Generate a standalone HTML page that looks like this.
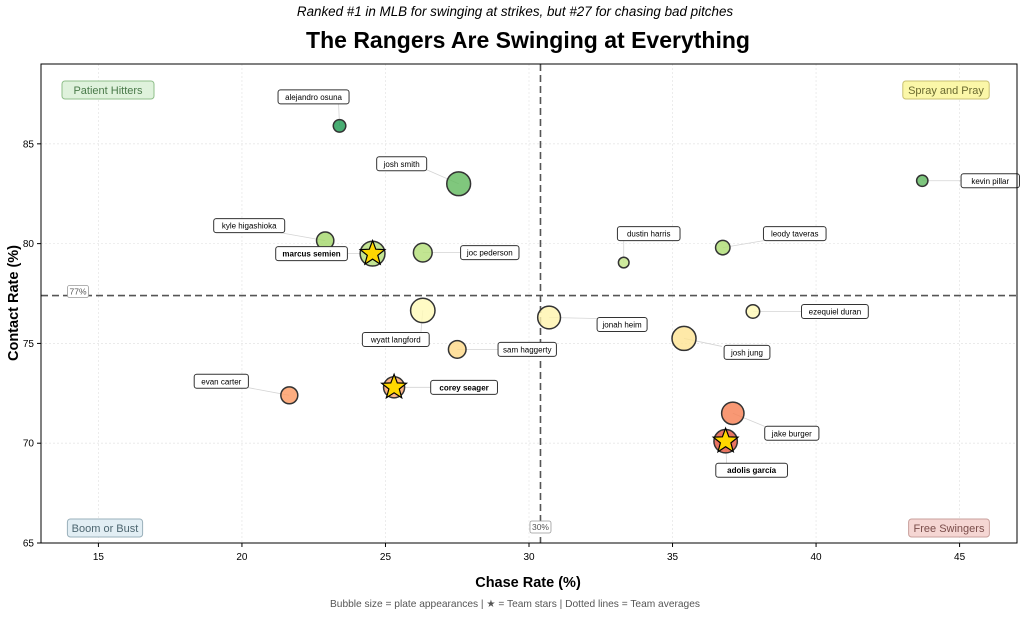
<!DOCTYPE html>
<html><head><meta charset="utf-8"><style>
body{margin:0;background:#fff;font-family:"Liberation Sans","DejaVu Sans",sans-serif;}
svg text{font-family:"Liberation Sans","DejaVu Sans",sans-serif;}
</style></head><body>
<svg id="c" width="1023" height="614" xmlns="http://www.w3.org/2000/svg"></svg>
<script>
const names=["alejandro osuna","josh smith","kevin pillar","kyle higashioka","marcus semien","joc pederson","dustin harris","leody taveras","wyatt langford","jonah heim","ezequiel duran","josh jung","sam haggerty","evan carter","corey seager","jake burger","adolis garcía"];
const chase=[23.4,27.55,43.7,22.9,24.55,26.3,33.3,36.75,26.3,30.7,37.8,35.4,27.5,21.65,25.3,37.1,36.85];
const contact=[85.9,83.0,83.15,80.15,79.5,79.55,79.05,79.8,76.65,76.3,76.6,75.25,74.7,72.4,72.8,71.5,70.1];
const pa=[60,450,40,180,500,230,30,100,480,400,80,460,190,170,320,380,430];
const stars=[0,0,0,0,1,0,0,0,0,0,0,0,0,0,1,0,1];
const xTicks=[15,20,25,30,35,40,45];
const yTicks=[65,70,75,80,85];
const avgChase=30.4, avgContact=77.4;
// label layout offsets (pixels)
const lo=[[-26,-29],[-57,-20],[68,0],[-76,-15],[-61,0],[67,0],[25,-29],[72,-14],[-27,29],[73,7],[82,0],[63,14],[70,0],[-68,-14],[70,0],[59,20],[26,29]];
const X0=41,X1=1017,Y0=64,Y1=543,xmin=13,xmax=47,ymin=65,ymax=89;
const sx=v=>X0+(v-xmin)/(xmax-xmin)*(X1-X0);
const sy=v=>Y1-(v-ymin)/(ymax-ymin)*(Y1-Y0);
const svg=document.getElementById('c');
const NS="http://www.w3.org/2000/svg";
function el(t,a,p){const e=document.createElementNS(NS,t);for(const k in a)e.setAttribute(k,a[k]);(p||svg).appendChild(e);return e;}
function txt(s,a,p){const e=el('text',a,p);e.textContent=s;return e;}
const stops=[[69,[215,48,39]],[72,[252,141,89]],[75,[254,224,139]],[77,[255,255,191]],[80,[166,217,106]],[86,[26,152,80]]];
function cmap(v){if(v<=stops[0][0])return stops[0][1];for(let i=1;i<stops.length;i++){if(v<=stops[i][0]){const a=stops[i-1],b=stops[i],t=(v-a[0])/(b[0]-a[0]);return a[1].map((c,j)=>Math.round(c+(b[1][j]-c)*t));}}return stops[stops.length-1][1];}
// grid
xTicks.forEach(t=>{const g=el('line',{x1:sx(t),x2:sx(t),y1:Y0,y2:Y1,stroke:'#e8e8e8','stroke-dasharray':'2,2','stroke-width':0.8});
el('line',{x1:sx(t),x2:sx(t),y1:Y1,y2:Y1+4,stroke:'#000'});
const tl=txt(t,{x:sx(t),y:Y1+17,'font-size':10,'text-anchor':'middle'});});
yTicks.forEach(t=>{const g=el('line',{x1:X0,x2:X1,y1:sy(t),y2:sy(t),stroke:'#e8e8e8','stroke-dasharray':'2,2','stroke-width':0.8});
el('line',{x1:X0-4,x2:X0,y1:sy(t),y2:sy(t),stroke:'#000'});
const tl=txt(t,{x:X0-7,y:sy(t)+3.5,'font-size':10,'text-anchor':'end'});});
// avg lines
const va=el('line',{x1:sx(avgChase),x2:sx(avgChase),y1:Y0,y2:Y1,stroke:'#555','stroke-width':1.6,'stroke-dasharray':'7,4'});

const ha=el('line',{x1:X0,x2:X1,y1:sy(avgContact),y2:sy(avgContact),stroke:'#555','stroke-width':1.6,'stroke-dasharray':'7,4'});

function smallBox(s,cx,cy,name){const g=el('g',{});
const w=s.length*5+6;el('rect',{x:cx-w/2,y:cy-6,width:w,height:12,rx:2,fill:'#fff',stroke:'#999','stroke-width':0.8},g);txt(s,{x:cx,y:cy+3,'font-size':8.5,'text-anchor':'middle',fill:'#555'},g);}
smallBox(Math.round(avgContact)+'%',78,sy(avgContact)-4,'avg-contact-label');
smallBox(Math.round(avgChase)+'%',sx(avgChase),527,'avg-chase-label');
// quadrant labels
[["Patient Hitters",108,90,'#dff2dc','#8fbf8a','#4a7a4a'],["Spray and Pray",946,90,'#fbf7a8','#c8c070','#6a6a30'],["Boom or Bust",105,528,'#e2eef4','#9ab0bb','#4d6670'],["Free Swingers",949,528,'#f5d6d3','#c9a09c','#7a4d4a']].forEach(q=>{
const g=el('g',{});
const w=q[0].length*5.6+8;el('rect',{x:q[1]-w/2,y:q[2]-9,width:w,height:18,rx:3,fill:q[3],stroke:q[4]},g);
txt(q[0],{x:q[1],y:q[2]+4,'font-size':11,'text-anchor':'middle',fill:q[5]},g);});
// points
names.forEach((n,i)=>{
const x=sx(chase[i]),y=sy(contact[i]),r=3+Math.sqrt(pa[i])*0.42;
const lx=x+lo[i][0],ly=y+lo[i][1];
const ln=el('line',{x1:x,y1:y,x2:lx-Math.sign(lo[i][0])*25,y2:ly-Math.sign(lo[i][1])*6,stroke:'#d4d4d4','stroke-width':0.8});

const c=cmap(contact[i]);
const b=el('circle',{cx:x,cy:y,r:r,fill:`rgb(${c})`,'fill-opacity':0.8,stroke:'#333','stroke-width':1.5});

if(stars[i]){let p=[];for(let k=0;k<10;k++){const a=-Math.PI/2+k*Math.PI/5,rr=k%2?5.5:13;p.push((x+rr*Math.cos(a)).toFixed(1)+','+(y+rr*Math.sin(a)).toFixed(1));}
const s=el('polygon',{points:p.join(' '),fill:'#FFD700',stroke:'#000','stroke-width':1.2});}
const g=el('g',{});
const bold=stars[i];const w=n.length*(bold?4.9:4.2)+8;
el('rect',{x:lx-w/2,y:ly-7,width:w,height:14,rx:2.5,fill:'#fff',stroke:'#333','stroke-width':1},g);
txt(n,{x:lx,y:ly+3,'font-size':8,'text-anchor':'middle','font-weight':bold?'bold':'normal'},g);
});
const fr=el('rect',{x:X0,y:Y0,width:X1-X0,height:Y1-Y0,fill:'none',stroke:'#000','stroke-width':1});

let t=txt('Ranked #1 in MLB for swinging at strikes, but #27 for chasing bad pitches',{x:515,y:16,'font-size':13.4,'font-style':'italic','text-anchor':'middle'});

t=txt('The Rangers Are Swinging at Everything',{x:528,y:48,'font-size':23,'font-weight':'bold','text-anchor':'middle'});

t=txt('Chase Rate (%)',{x:528,y:587,'font-size':14.5,'font-weight':'bold','text-anchor':'middle'});

t=txt('Contact Rate (%)',{x:0,y:0,'font-size':14.5,'font-weight':'bold','text-anchor':'middle',transform:'translate(18,303) rotate(-90)'});

t=txt('Bubble size = plate appearances | ★ = Team stars | Dotted lines = Team averages',{x:515,y:607,'font-size':10.2,'text-anchor':'middle',fill:'#555'});

</script>
</body></html>
